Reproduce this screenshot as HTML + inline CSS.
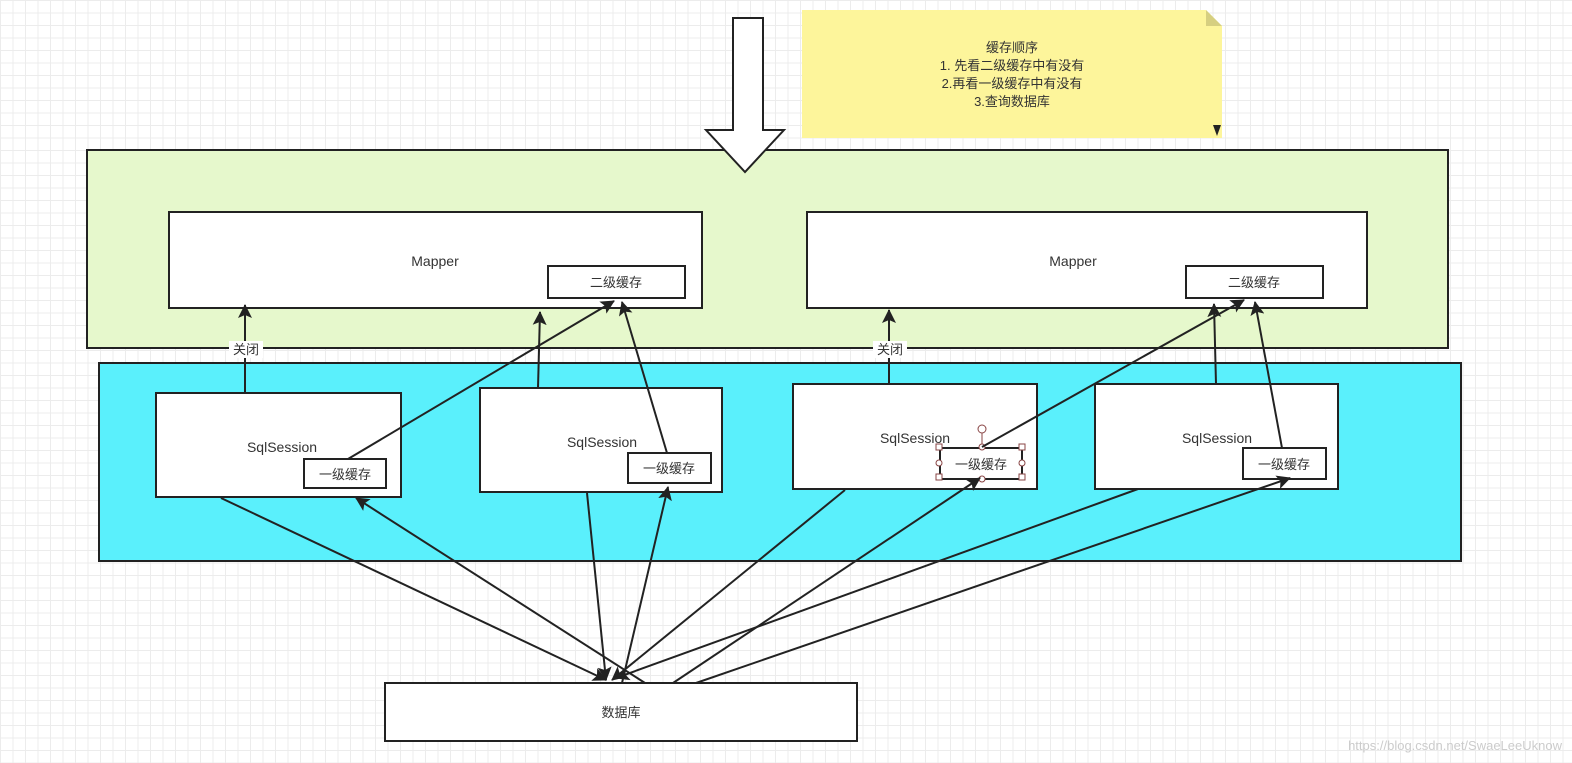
<!DOCTYPE html>
<html><head><meta charset="utf-8"><style>
body{margin:0;width:1572px;height:758px;overflow:hidden;background:#fff;
background-image:linear-gradient(#ececec 1px,transparent 1px),linear-gradient(90deg,#ececec 1px,transparent 1px);background-size:12.5px 12.5px;}
svg text{font-family:"Liberation Sans","Noto Sans CJK SC",sans-serif;fill:#333;}
</style></head><body>
<svg width="1572" height="758" xmlns="http://www.w3.org/2000/svg">
<defs><marker id="a" markerWidth="10" markerHeight="10" refX="9" refY="5" orient="auto" markerUnits="userSpaceOnUse" viewBox="0 0 10 10"><path d="M0,0 L10,5 L0,10 L2,5 z" fill="#222"/></marker>
<marker id="b" markerWidth="14" markerHeight="14" refX="13" refY="7" orient="auto" markerUnits="userSpaceOnUse" viewBox="0 0 14 14"><path d="M0,0 L14,7 L0,14 L3,7 z" fill="#222"/></marker></defs>
<!-- note -->
<path d="M802,10 L1206,10 L1222,26 L1222,138 L802,138 z" fill="#fdf59b"/>
<path d="M1206,10 L1222,26 L1206,26 z" fill="#d6cf80"/>
<path d="M1213,125 L1221,125 L1217,136 z" fill="#222"/>
<text x="1012" y="52" font-size="13" text-anchor="middle">缓存顺序</text>
<text x="1012" y="70" font-size="13" text-anchor="middle">1. 先看二级缓存中有没有</text>
<text x="1012" y="88" font-size="13" text-anchor="middle">2.再看一级缓存中有没有</text>
<text x="1012" y="106" font-size="13" text-anchor="middle">3.查询数据库</text>
<!-- containers -->
<rect x="87" y="150" width="1361" height="198" fill="#e6f8cc" stroke="#222" stroke-width="2"/>
<rect x="99" y="363" width="1362" height="198" fill="#5af0fc" stroke="#222" stroke-width="2"/>
<!-- big arrow -->
<path d="M733,18 L763,18 L763,130 L784,130 L745,172 L706,130 L733,130 z" fill="#fff" stroke="#222" stroke-width="2"/>
<!-- mappers -->
<rect x="169" y="212" width="533" height="96" fill="#fff" stroke="#222" stroke-width="2"/>
<text x="435" y="266" font-size="14" text-anchor="middle">Mapper</text>
<rect x="548" y="266" width="137" height="32" fill="#fff" stroke="#222" stroke-width="2"/>
<text x="616" y="287" font-size="13" text-anchor="middle">二级缓存</text>
<rect x="807" y="212" width="560" height="96" fill="#fff" stroke="#222" stroke-width="2"/>
<text x="1073" y="266" font-size="14" text-anchor="middle">Mapper</text>
<rect x="1186" y="266" width="137" height="32" fill="#fff" stroke="#222" stroke-width="2"/>
<text x="1254" y="287" font-size="13" text-anchor="middle">二级缓存</text>
<!-- sessions -->
<rect x="156" y="393" width="245" height="104" fill="#fff" stroke="#222" stroke-width="2"/>
<text x="282" y="452" font-size="14" text-anchor="middle">SqlSession</text>
<rect x="304" y="459" width="82" height="29" fill="#fff" stroke="#222" stroke-width="2"/>
<text x="345" y="479" font-size="13" text-anchor="middle">一级缓存</text>
<rect x="480" y="388" width="242" height="104" fill="#fff" stroke="#222" stroke-width="2"/>
<text x="602" y="447" font-size="14" text-anchor="middle">SqlSession</text>
<rect x="628" y="453" width="83" height="30" fill="#fff" stroke="#222" stroke-width="2"/>
<text x="669" y="473" font-size="13" text-anchor="middle">一级缓存</text>
<rect x="793" y="384" width="244" height="105" fill="#fff" stroke="#222" stroke-width="2"/>
<text x="915" y="443" font-size="14" text-anchor="middle">SqlSession</text>
<rect x="940" y="448" width="82" height="31" fill="#fff" stroke="#222" stroke-width="2"/>
<text x="981" y="469" font-size="13" text-anchor="middle">一级缓存</text>
<g fill="#fff" stroke="#844" stroke-width="1"><rect x="936" y="444" width="6" height="6"/><rect x="1019" y="444" width="6" height="6"/><rect x="936" y="474" width="6" height="6"/><rect x="1019" y="474" width="6" height="6"/><circle cx="982" cy="447" r="3"/><circle cx="982" cy="479" r="3"/><circle cx="939" cy="463" r="3"/><circle cx="1022" cy="463" r="3"/><circle cx="982" cy="429" r="4"/><line x1="982" y1="433" x2="982" y2="444"/></g>
<rect x="1095" y="384" width="243" height="105" fill="#fff" stroke="#222" stroke-width="2"/>
<text x="1217" y="443" font-size="14" text-anchor="middle">SqlSession</text>
<rect x="1243" y="448" width="83" height="31" fill="#fff" stroke="#222" stroke-width="2"/>
<text x="1284" y="469" font-size="13" text-anchor="middle">一级缓存</text>
<!-- DB -->
<rect x="385" y="683" width="472" height="58" fill="#fff" stroke="#222" stroke-width="2"/>
<text x="621" y="717" font-size="13" text-anchor="middle">数据库</text>
<!-- up connectors -->
<g stroke="#222" stroke-width="2" fill="none">
<line x1="245" y1="393" x2="245" y2="305" marker-end="url(#b)"/>
<line x1="348" y1="459" x2="614" y2="301" marker-end="url(#b)"/>
<line x1="538" y1="388" x2="540" y2="312" marker-end="url(#b)"/>
<line x1="667" y1="453" x2="622" y2="302" marker-end="url(#b)"/>
<line x1="889" y1="384" x2="889" y2="310" marker-end="url(#b)"/>
<line x1="982" y1="447" x2="1244" y2="300" marker-end="url(#b)"/>
<line x1="1216" y1="384" x2="1214" y2="304" marker-end="url(#b)"/>
<line x1="1282" y1="448" x2="1255" y2="302" marker-end="url(#b)"/>
<!-- bottom -->
<line x1="221" y1="498" x2="606" y2="680" marker-end="url(#b)"/>
<line x1="645" y1="683" x2="356" y2="498" marker-end="url(#b)"/>
<line x1="587" y1="493" x2="606" y2="680" marker-end="url(#b)"/>
<line x1="622" y1="683" x2="668" y2="487" marker-end="url(#b)"/>
<line x1="845" y1="490" x2="612" y2="680" marker-end="url(#b)"/>
<line x1="1138" y1="489" x2="616" y2="678" marker-end="url(#b)"/>
<line x1="673" y1="683" x2="980" y2="478" marker-end="url(#b)"/>
<line x1="696" y1="683" x2="1290" y2="478" marker-end="url(#b)"/>
</g>
<rect x="229" y="341" width="34" height="17" fill="#fff"/>
<text x="246" y="354" font-size="13" text-anchor="middle">关闭</text>
<rect x="873" y="341" width="34" height="17" fill="#fff"/>
<text x="890" y="354" font-size="13" text-anchor="middle">关闭</text>
<text x="1562" y="750" font-size="13" text-anchor="end" style="fill:#ccc">https://blog.csdn.net/SwaeLeeUknow</text>
</svg>
</body></html>
